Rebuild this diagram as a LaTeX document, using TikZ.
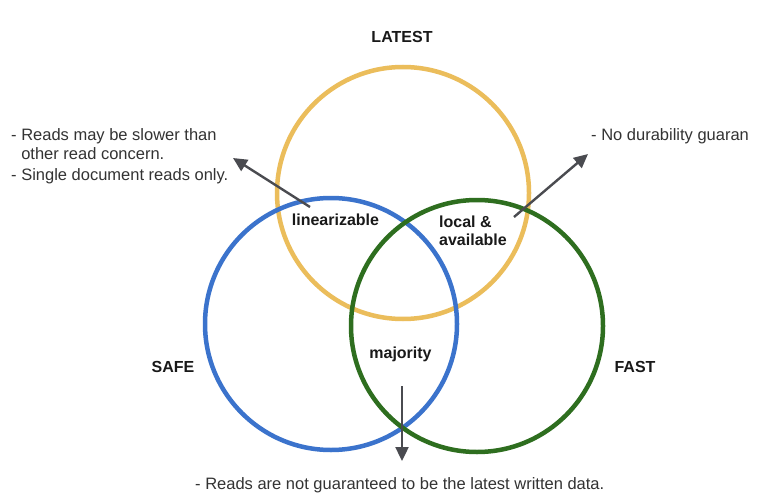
\documentclass[tikz,border=0pt]{standalone}
\usepackage{fontspec}
\setmainfont{Liberation Sans}
\usetikzlibrary{arrows.meta}
\definecolor{cyellow}{HTML}{EBBD5B}
\definecolor{cblue}{HTML}{3B73CC}
\definecolor{cgreen}{HTML}{2E6E1F}
\definecolor{carrow}{HTML}{4A4B50}
\definecolor{ctext}{HTML}{333333}
\begin{document}
\begin{tikzpicture}[x=1pt,y=-1pt,
  ring/.style={line width=4.5pt},
  pointer/.style={carrow,line width=2.4pt,-{Triangle[length=14pt,width=13pt]}},
  note/.style={inner sep=0pt,anchor=base west,text=ctext,font=\fontsize{16.5}{20.5}\selectfont},
  label/.style={inner sep=0pt,anchor=base,text=black!90,font=\fontsize{16}{19}\selectfont\bfseries},
  region/.style={inner sep=0pt,anchor=base,text=black!90,font=\fontsize{16}{19}\selectfont\bfseries}]
\useasboundingbox (0,0) rectangle (760,500);
\fill[white] (0,0) rectangle (760,500);

% circles
\draw[ring,cyellow] (403,193) circle[radius=126pt];
\draw[ring,cblue] (331,324) circle[radius=126pt];
\draw[ring,cgreen] (477,326) circle[radius=126pt];

% set labels
\node[label] (latest) at (402,43) {LATEST};
\node[label] (safe) at (173,372) {SAFE};
\node[label] (fast) at (635,372) {FAST};

% region labels
\node[region] (lin) at (335.5,225) {linearizable};
\node[region,anchor=base west] (local) at (439,227) {local \&};
\node[region,anchor=base west] (avail) at (439,245) {available};
\node[region] (maj) at (400.5,358) {majority};

% arrows
\coordinate (a1s) at (310,207);
\coordinate (a1e) at (233,158);
\coordinate (a2s) at (514,217);
\coordinate (a2e) at (588,154);
\coordinate (a3s) at (402,386);
\coordinate (a3e) at (402,461);
\draw[pointer] (a1s) -- (a1e);
\draw[pointer] (a2s) -- (a2e);
\draw[pointer] (a3s) -- (a3e);

% notes
\node[note] (n1) at (11,140) {- Reads may be slower than};
\node[note] (n2) at (11,160) {\phantom{- }other read concern.};
\node[note] (n3) at (11,180) {- Single document reads only.};
\node[note] (n4) at (591,140) {- No durability guaran};
\node[note] (n5) at (195,489) {- Reads are not guaranteed to be the latest written data.};
\end{tikzpicture}
\end{document}
